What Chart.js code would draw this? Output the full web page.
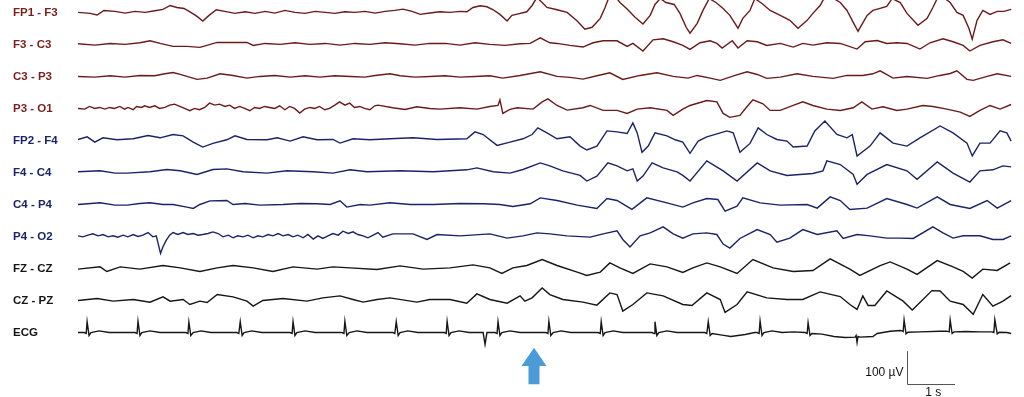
<!DOCTYPE html>
<html>
<head>
<meta charset="utf-8">
<script src="https://cdn.jsdelivr.net/npm/chart.js@4.4.1/dist/chart.umd.min.js"></script>
<style>
html,body{margin:0;padding:0;background:#fff;}
#wrap{width:1024px;height:397px;position:relative;}
</style>
</head>
<body>
<div id="wrap"><canvas id="c"></canvas></div>
<script>
// ---- Channel names (montage) ----
const channels = ['FP1 - F3','F3 - C3','C3 - P3','P3 - O1','FP2 - F4','F4 - C4','C4 - P4','P4 - O2','FZ - CZ','CZ - PZ','ECG'];

// ---- Series: [time (s), amplitude (µV)] ----
const fp1f3 = [[0.00,0],[0.25,-3],[0.40,-8],[0.54,6],[0.77,3],[0.98,-2],[1.19,3],[1.40,0],[1.60,5],[1.77,9],[1.92,21],[2.06,15],[2.21,12],[2.35,0],[2.48,-12],[2.60,-26],[2.73,-9],[2.88,8],[3.06,3],[3.27,-3],[3.48,2],[3.69,-3],[3.90,3],[4.10,-2],[4.31,6],[4.52,0],[4.73,-3],[4.94,3],[5.15,0],[5.35,-3],[5.56,2],[5.77,0],[5.98,3],[6.19,-2],[6.40,3],[6.60,6],[6.77,10],[6.96,3],[7.13,-6],[7.33,-2],[7.54,2],[7.75,0],[7.96,3],[8.10,2],[8.23,15],[8.38,20],[8.52,17],[8.65,8],[8.79,-6],[8.94,-26],[9.04,-9],[9.15,-5],[9.35,2],[9.46,21],[9.56,45],[9.67,30],[9.77,15],[9.98,8],[10.19,0],[10.40,-26],[10.56,-51],[10.71,-45],[10.88,-18],[10.98,15],[11.06,45],[11.21,45],[11.29,30],[11.44,10],[11.60,-14],[11.77,-35],[11.92,-9],[12.02,24],[12.13,42],[12.25,30],[12.42,24],[12.54,-3],[12.67,-45],[12.75,-63],[12.90,-33],[13.02,6],[13.15,42],[13.29,30],[13.44,12],[13.58,-9],[13.75,-48],[13.85,-18],[14.00,6],[14.10,42],[14.25,27],[14.42,6],[14.63,-9],[14.83,-24],[15.00,-48],[15.19,-24],[15.31,-3],[15.46,21],[15.54,42],[15.71,45],[15.88,30],[16.02,6],[16.15,-30],[16.25,-57],[16.44,-9],[16.56,6],[16.71,12],[16.85,18],[16.96,42],[17.13,30],[17.27,-3],[17.50,-39],[17.69,-18],[17.81,15],[17.90,42],[18.06,42],[18.17,30],[18.31,0],[18.44,-9],[18.56,-48],[18.63,-81],[18.73,-24],[18.85,6],[19.00,-6],[19.15,3],[19.29,3],[19.44,9]];

const f3c3 = [[0.00,2],[0.35,-2],[0.67,3],[0.98,0],[1.29,5],[1.50,11],[1.71,3],[1.98,-6],[2.27,-6],[2.54,-9],[2.90,6],[3.23,6],[3.52,6],[3.65,-3],[3.90,3],[4.21,0],[4.52,5],[4.83,0],[5.15,3],[5.46,-2],[5.77,3],[6.08,0],[6.40,5],[6.71,2],[7.02,-2],[7.33,3],[7.65,3],[7.96,-2],[8.27,5],[8.58,0],[8.90,-3],[9.21,2],[9.42,3],[9.63,20],[9.83,5],[9.98,3],[10.25,-3],[10.52,-8],[10.73,5],[10.94,11],[11.23,11],[11.44,-6],[11.56,3],[11.77,-20],[11.98,14],[12.19,17],[12.40,8],[12.60,-3],[12.75,-15],[12.96,5],[13.17,11],[13.31,3],[13.42,-11],[13.63,11],[13.75,-11],[13.94,11],[14.15,8],[14.35,-3],[14.63,3],[14.90,-8],[15.10,3],[15.31,-2],[15.60,5],[15.88,3],[16.23,-14],[16.40,8],[16.65,12],[16.85,3],[17.06,5],[17.27,3],[17.54,-14],[17.75,5],[18.02,17],[18.23,8],[18.44,-3],[18.58,-20],[18.79,-3],[19.06,8],[19.27,14],[19.44,3]];

const c3p3 = [[0.00,0],[0.35,-2],[0.67,2],[0.98,-2],[1.29,3],[1.60,2],[1.81,8],[1.98,12],[2.13,6],[2.27,0],[2.48,-9],[2.69,-5],[2.96,8],[3.23,3],[3.52,-5],[3.79,0],[4.10,3],[4.42,-2],[4.73,2],[5.04,-2],[5.35,2],[5.67,0],[5.98,-2],[6.19,3],[6.50,8],[6.71,2],[7.02,-2],[7.33,0],[7.65,2],[7.96,-2],[8.27,0],[8.58,2],[8.85,-5],[9.21,3],[9.63,14],[9.98,0],[10.25,-3],[10.52,-8],[10.81,2],[11.08,11],[11.35,-9],[11.71,3],[12.06,11],[12.40,0],[12.71,-5],[12.90,3],[13.17,-5],[13.38,-12],[13.69,3],[13.94,14],[14.15,6],[14.35,-6],[14.63,-2],[14.98,8],[15.31,0],[15.73,-6],[16.02,3],[16.35,3],[16.56,8],[16.71,17],[16.98,-5],[17.27,0],[17.69,-6],[17.96,3],[18.17,9],[18.31,17],[18.52,-9],[18.65,-12],[18.94,0],[19.15,8],[19.44,0]];

const p3o1 = [[0.00,0],[0.14,-2],[0.24,6],[0.35,0],[0.45,3],[0.56,-2],[0.66,3],[0.76,0],[0.87,6],[0.97,-2],[1.04,3],[1.15,-4],[1.22,6],[1.32,3],[1.39,8],[1.49,3],[1.60,8],[1.70,0],[1.81,3],[1.91,10],[2.01,13],[2.12,6],[2.22,0],[2.33,-7],[2.43,0],[2.53,-4],[2.64,3],[2.74,16],[2.85,10],[2.95,13],[3.06,6],[3.16,10],[3.26,0],[3.37,6],[3.47,0],[3.58,-7],[3.68,3],[3.78,0],[3.89,6],[3.99,3],[4.10,0],[4.20,8],[4.31,-4],[4.41,6],[4.51,0],[4.62,-14],[4.72,-2],[4.83,3],[4.93,0],[5.03,6],[5.14,-4],[5.24,0],[5.35,10],[5.45,20],[5.56,10],[5.66,16],[5.76,3],[5.87,6],[5.97,0],[6.08,-4],[6.18,8],[6.25,10],[6.56,2],[6.81,-3],[7.06,5],[7.33,0],[7.54,-2],[7.96,2],[8.31,-2],[8.58,6],[8.75,9],[8.79,26],[8.85,-15],[9.00,-3],[9.15,2],[9.48,-2],[9.67,20],[9.79,29],[9.98,9],[10.19,-5],[10.52,2],[10.67,9],[10.94,-6],[11.23,-6],[11.44,-15],[11.65,-2],[11.92,2],[12.27,-6],[12.40,-21],[12.60,-2],[12.75,9],[13.10,24],[13.31,20],[13.44,-15],[13.58,-27],[13.79,-21],[13.94,6],[14.06,26],[14.27,14],[14.42,-6],[14.63,-6],[14.90,9],[15.10,20],[15.31,9],[15.60,-2],[15.88,-6],[16.15,2],[16.33,20],[16.54,-2],[16.77,5],[17.06,-6],[17.27,-2],[17.60,9],[17.81,6],[18.10,-2],[18.38,-11],[18.58,-24],[18.79,-6],[19.00,9],[19.21,-2],[19.44,12]];

const fp2f4 = [[0.00,3],[0.19,11],[0.35,-5],[0.52,8],[0.81,2],[1.15,5],[1.46,15],[1.71,8],[1.98,18],[2.19,14],[2.40,-5],[2.60,-20],[2.81,-9],[3.10,2],[3.27,14],[3.52,3],[3.94,2],[4.15,8],[4.42,-2],[4.69,11],[4.98,2],[5.31,3],[5.46,-8],[5.73,5],[6.08,2],[6.50,5],[6.98,8],[7.48,3],[8.10,5],[8.27,26],[8.44,18],[8.73,-15],[9.00,-5],[9.27,5],[9.46,18],[9.58,38],[9.77,23],[9.98,5],[10.25,11],[10.46,-17],[10.60,-29],[10.81,-17],[11.02,29],[11.23,26],[11.44,21],[11.56,53],[11.65,23],[11.75,-36],[11.88,-17],[12.02,23],[12.27,14],[12.44,2],[12.60,-5],[12.75,-39],[12.92,-2],[13.10,11],[13.38,23],[13.52,29],[13.65,23],[13.79,-36],[14.00,-9],[14.17,38],[14.35,18],[14.56,3],[14.77,-2],[14.90,-20],[15.19,-17],[15.35,29],[15.56,59],[15.81,18],[16.02,8],[16.13,18],[16.23,-47],[16.50,-17],[16.71,23],[16.98,-8],[17.27,-17],[17.54,8],[17.96,44],[18.23,23],[18.52,-8],[18.63,-47],[18.79,-8],[19.00,-8],[19.21,29],[19.35,23],[19.44,-2]];

const f4c4 = [[0.00,2],[0.46,5],[0.77,-2],[1.02,-2],[1.50,2],[1.85,9],[2.13,5],[2.48,-6],[2.81,9],[3.10,11],[3.44,2],[3.94,-2],[4.35,5],[4.90,2],[5.31,-2],[5.67,8],[6.02,2],[6.71,5],[7.40,2],[8.10,8],[8.31,14],[8.65,2],[9.00,-2],[9.27,9],[9.63,29],[9.83,20],[10.10,5],[10.46,-9],[10.60,-26],[10.81,-11],[11.04,29],[11.23,20],[11.44,5],[11.56,11],[11.65,-26],[11.77,-11],[11.96,29],[12.19,14],[12.48,2],[12.60,-9],[12.75,-26],[13.10,35],[13.44,5],[13.73,-26],[14.15,29],[14.42,5],[14.77,-9],[15.31,-3],[15.52,5],[15.60,35],[15.88,24],[16.15,-6],[16.23,-36],[16.44,-6],[16.85,24],[17.27,5],[17.48,-21],[17.90,32],[18.23,-2],[18.58,-29],[18.79,5],[19.06,8],[19.27,20],[19.44,17]];

const c4p4 = [[0.00,0],[0.46,5],[0.77,-2],[1.02,-2],[1.29,3],[1.50,5],[1.77,0],[1.98,0],[2.27,-8],[2.40,-12],[2.54,0],[2.75,11],[3.10,12],[3.23,0],[3.48,3],[3.79,-2],[4.27,0],[4.63,3],[4.98,2],[5.25,0],[5.46,11],[5.60,-8],[5.88,0],[6.08,-2],[6.50,5],[6.92,0],[7.40,0],[7.96,3],[8.44,2],[8.79,0],[9.06,-6],[9.42,2],[9.63,20],[9.98,12],[10.40,-2],[10.81,-12],[11.02,18],[11.23,12],[11.54,-15],[11.85,20],[12.27,5],[12.60,-8],[12.81,5],[13.10,18],[13.33,15],[13.48,-20],[13.73,-5],[13.85,20],[14.21,5],[14.63,-2],[15.19,0],[15.40,-11],[15.67,23],[15.88,12],[16.08,-15],[16.44,-11],[16.85,18],[17.27,0],[17.48,-11],[17.90,23],[18.17,0],[18.58,-12],[18.94,12],[19.15,-11],[19.44,12]];

const p4o2 = [[0.00,2],[0.10,-1],[0.21,4],[0.31,8],[0.42,2],[0.52,6],[0.63,-1],[0.73,2],[0.83,-2],[0.94,4],[1.04,-1],[1.15,6],[1.25,0],[1.35,4],[1.46,12],[1.56,-1],[1.63,2],[1.72,-51],[1.77,-31],[1.84,-11],[1.91,4],[1.98,12],[2.08,6],[2.19,12],[2.29,6],[2.40,9],[2.50,4],[2.60,6],[2.71,9],[2.81,14],[2.92,9],[3.02,-1],[3.13,4],[3.23,-4],[3.33,2],[3.44,-1],[3.54,4],[3.65,-4],[3.75,2],[3.85,-1],[3.96,6],[4.06,2],[4.17,9],[4.27,2],[4.38,6],[4.48,-1],[4.58,4],[4.69,-4],[4.79,6],[4.90,-8],[5.00,2],[5.10,-6],[5.21,2],[5.31,9],[5.42,4],[5.52,16],[5.63,9],[5.73,14],[5.83,6],[5.94,2],[6.04,-4],[6.15,4],[6.25,12],[6.35,-2],[6.56,8],[6.98,8],[7.27,-9],[7.48,6],[7.96,2],[8.58,8],[8.94,-5],[9.27,2],[9.56,11],[9.83,8],[10.19,2],[10.67,-2],[10.94,8],[11.23,17],[11.35,-9],[11.50,-32],[11.71,2],[11.92,11],[12.19,29],[12.40,8],[12.60,-5],[12.81,8],[13.10,11],[13.31,6],[13.44,-23],[13.58,-35],[13.79,-6],[14.15,21],[14.42,6],[14.56,-17],[14.83,-5],[15.10,21],[15.40,6],[15.81,17],[15.94,-6],[16.23,6],[16.50,2],[16.85,-5],[17.13,-5],[17.40,-6],[17.81,29],[18.02,11],[18.23,-5],[18.44,2],[18.79,2],[19.06,-9],[19.27,-9],[19.44,2]];

const fzcz = [[0.00,-2],[0.46,5],[0.60,-9],[0.88,5],[1.29,-2],[1.77,9],[2.13,2],[2.54,-9],[2.90,2],[3.23,9],[3.65,2],[4.06,-9],[4.48,5],[4.98,-2],[5.31,5],[5.67,2],[6.23,-3],[6.71,8],[7.19,-2],[7.75,2],[8.23,11],[8.58,2],[8.83,-15],[9.06,2],[9.35,9],[9.67,27],[9.98,9],[10.40,-11],[10.60,-21],[10.88,-11],[11.08,17],[11.29,2],[11.56,-15],[11.92,14],[12.27,5],[12.60,-12],[12.81,2],[13.10,17],[13.38,5],[13.73,-15],[14.06,27],[14.48,2],[14.90,-9],[15.31,-6],[15.67,29],[16.08,-2],[16.29,-21],[16.71,9],[16.92,20],[17.27,-2],[17.48,-18],[17.90,24],[18.23,5],[18.44,-9],[18.63,-29],[18.85,-2],[19.15,-6],[19.42,17]];

const czpz = [[0.00,0],[0.40,6],[0.73,-2],[1.15,3],[1.50,-5],[1.77,11],[1.92,-2],[2.19,3],[2.33,-12],[2.54,-2],[2.69,-6],[2.90,18],[3.23,11],[3.52,-2],[3.65,-17],[3.85,0],[4.27,6],[4.77,-2],[5.10,8],[5.46,14],[5.73,3],[5.94,-5],[6.23,3],[6.50,8],[7.06,-5],[7.33,3],[7.75,3],[8.10,-8],[8.31,20],[8.58,3],[8.94,-8],[9.21,14],[9.31,-2],[9.46,8],[9.67,38],[9.83,18],[10.10,3],[10.52,-5],[10.81,-14],[11.08,23],[11.23,18],[11.35,-32],[11.56,-12],[11.85,23],[12.19,14],[12.60,-12],[12.79,-15],[13.10,23],[13.38,3],[13.48,-36],[13.73,-12],[13.94,26],[14.35,8],[14.77,3],[15.10,3],[15.46,26],[15.88,12],[16.08,-12],[16.23,-27],[16.35,14],[16.46,-15],[16.60,-15],[16.85,29],[17.19,-2],[17.38,-29],[17.54,-6],[17.79,30],[17.96,29],[18.17,-2],[18.44,-12],[18.65,-42],[18.85,18],[19.06,-17],[19.27,-2],[19.44,15]];

const ecg = [[0.00,0],[0.13,0],[0.17,-3],[0.19,33],[0.23,-9],[0.27,0],[0.44,5],[0.65,0],
[1.19,0],[1.23,-3],[1.25,34],[1.29,-9],[1.33,0],[1.50,5],[1.71,0],
[2.25,0],[2.29,-3],[2.31,32],[2.35,-9],[2.40,0],[2.56,5],[2.77,0],
[3.31,0],[3.35,-3],[3.38,33],[3.42,-9],[3.46,0],[3.62,5],[3.83,0],
[4.42,0],[4.46,-3],[4.48,33],[4.52,-9],[4.56,0],[4.73,5],[4.94,0],
[5.50,0],[5.54,-3],[5.56,34],[5.60,-9],[5.65,0],[5.81,5],[6.02,0],
[6.56,0],[6.60,-3],[6.63,33],[6.67,-9],[6.71,0],[6.87,5],[7.08,0],
[7.63,0],[7.67,-3],[7.69,34],[7.73,-9],[7.77,0],[7.94,5],[8.15,0],
[8.44,0],[8.48,-36],[8.52,0],
[8.69,0],[8.73,-3],[8.75,33],[8.79,-9],[8.83,0],[9.00,5],[9.21,0],
[9.75,0],[9.79,-3],[9.81,34],[9.85,-9],[9.90,0],[10.06,5],[10.27,0],
[10.83,0],[10.88,-3],[10.90,33],[10.94,-9],[10.98,0],[11.15,5],[11.35,0],
[11.96,0],[12.00,-3],[12.02,33],[12.06,-9],[12.10,0],[12.27,5],[12.48,0],
[13.06,0],[13.10,-3],[13.13,33],[13.17,-9],[13.21,-3],[13.42,-8],[13.60,-12],[13.90,-6],[14.10,0],
[14.15,0],[14.19,-3],[14.21,35],[14.25,-9],[14.29,0],[14.46,5],[14.67,0],[14.90,2],
[15.15,0],[15.19,-3],[15.21,30],[15.25,-9],[15.29,-3],[15.50,-5],[15.75,-12],[15.98,-15],[16.19,-14],
[16.21,-9],[16.23,-30],[16.25,-12],[16.29,-14],[16.56,-12],[16.65,-3],[16.92,4],[17.13,6],
[17.17,5],[17.19,3],[17.21,38],[17.25,-4],[17.29,1],[17.54,2],[17.96,4],
[18.10,4],[18.15,2],[18.17,38],[18.21,-3],[18.25,2],[18.50,3],[18.79,2],
[19.04,2],[19.08,0],[19.10,39],[19.15,-4],[19.19,1],[19.35,0],[19.44,-3]];

const series = [fp1f3, f3c3, c3p3, p3o1, fp2f4, f4c4, c4p4, p4o2, fzcz, czpz, ecg];

// ---- Scale bar / marker (data units) ----
const scaleBarTime = 1;      // s
const scaleBarAmp = 100;     // µV
const scaleBarStart = [17.27, -1164]; // [s, µV] corner
const arrowTime = 9.5;       // s (seizure onset marker)
const arrowSpan = [-1054, -1164]; // µV tip / base

// ---- Layout / styles ----
const Y_MIN = -1203, Y_MAX = 0;
const FIRST_OFFSET = 37.6, SPACING = 97;
const baselines = channels.map((_, i) => -(FIRST_OFFSET + SPACING * i));
const RED = '#6b1a1a', BLUE = '#1b2367', BLACK = '#161616';
const traceColors = channels.map((_, i) => i < 4 ? RED : (i < 8 ? BLUE : BLACK));
const labelColors = channels.map((_, i) => i < 4 ? '#7a1e1e' : (i < 8 ? '#1c2469' : '#141414'));

const datasets = series.map((s, i) => ({
  label: channels[i],
  data: s.map(p => ({ x: p[0], y: p[1] + baselines[i] })),
  borderColor: traceColors[i],
  borderWidth: 1.4,
  pointRadius: 0,
  tension: 0,
  fill: false
}));

const overlay = {
  id: 'overlay',
  afterDraw(chart) {
    const { ctx, scales: { x, y } } = chart;
    const x0 = Math.round(x.getPixelForValue(scaleBarStart[0])) + 0.5;
    const x1 = x.getPixelForValue(scaleBarStart[0] + scaleBarTime);
    const y0 = Math.round(y.getPixelForValue(scaleBarStart[1])) + 0.5;
    const y1 = y.getPixelForValue(scaleBarStart[1] + scaleBarAmp);
    ctx.save();
    ctx.strokeStyle = '#555';
    ctx.lineWidth = 1;
    ctx.beginPath();
    ctx.moveTo(x0, y1);
    ctx.lineTo(x0, y0);
    ctx.lineTo(x1, y0);
    ctx.stroke();
    ctx.fillStyle = '#111';
    ctx.font = '12px "Liberation Sans", Arial, sans-serif';
    ctx.textAlign = 'right';
    ctx.textBaseline = 'middle';
    ctx.fillText('100 µV', x0 - 4, (y0 + y1) / 2 + 5);
    ctx.textAlign = 'center';
    ctx.fillText('1 s', (x0 + x1) / 2 + 2, y0 + 8);

    // arrow
    const ax = x.getPixelForValue(arrowTime);
    const ay0 = y.getPixelForValue(arrowSpan[0]);
    const ay1 = y.getPixelForValue(arrowSpan[1]);
    const headH = (ay1 - ay0) * 0.5;
    ctx.fillStyle = '#4a9bd6';
    ctx.beginPath();
    ctx.moveTo(ax, ay0);
    ctx.lineTo(ax + 12.5, ay0 + headH);
    ctx.lineTo(ax + 5.5, ay0 + headH);
    ctx.lineTo(ax + 5.5, ay1);
    ctx.lineTo(ax - 5.5, ay1);
    ctx.lineTo(ax - 5.5, ay0 + headH);
    ctx.lineTo(ax - 12.5, ay0 + headH);
    ctx.closePath();
    ctx.fill();
    ctx.restore();
  }
};

new Chart(document.getElementById('c'), {
  type: 'line',
  data: { datasets },
  options: {
    responsive: true,
    maintainAspectRatio: false,
    animation: false,
    layout: { padding: { left: 13, right: 0, top: 0, bottom: 0 } },
    plugins: { legend: { display: false }, tooltip: { enabled: false } },
    scales: {
      x: { type: 'linear', min: 0, max: 19.708, display: false },
      y: {
        type: 'linear', min: Y_MIN, max: Y_MAX, bounds: 'data',
        grid: { display: false, drawTicks: false }, border: { display: false },
        afterFit(s) { s.width = 65; s.paddingTop = 0; s.paddingBottom = 0; },
        afterBuildTicks(s) { s.ticks = baselines.map(v => ({ value: v })); },
        ticks: {
          autoSkip: false, crossAlign: 'far', padding: 0,
          font: { family: '"Liberation Sans", Arial, sans-serif', size: 11.5, weight: 'bold' },
          color: c => labelColors[c.index],
          callback: (v, i) => channels[i]
        }
      }
    }
  },
  plugins: [overlay]
});
</script>
</body>
</html>
